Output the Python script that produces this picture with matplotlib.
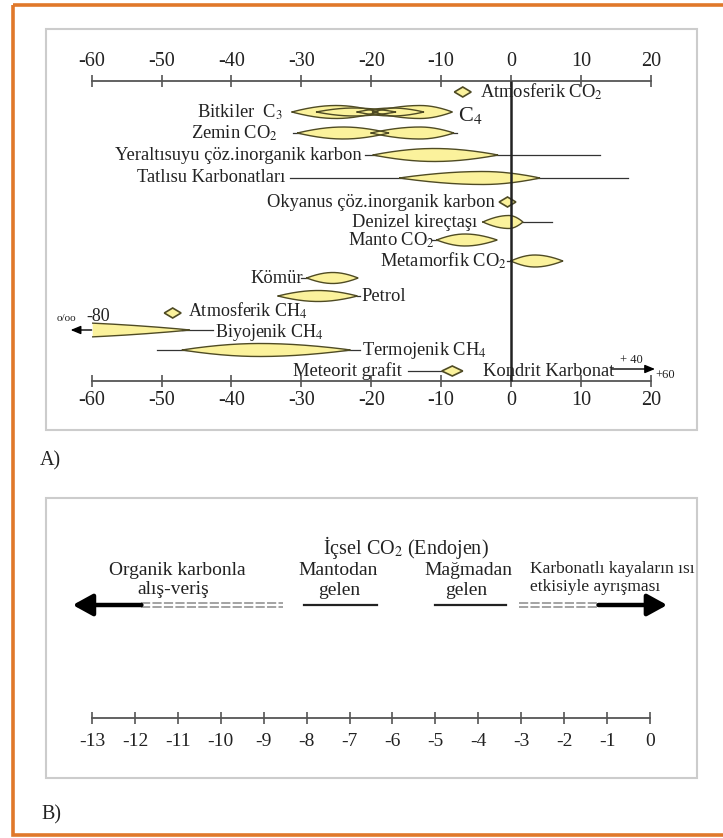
import numpy as np
import matplotlib
matplotlib.use('Agg')
import matplotlib.pyplot as plt
from matplotlib.patches import Rectangle

plt.rcParams['font.family'] = ['Liberation Serif', 'DejaVu Serif']
plt.rcParams['mathtext.fontset'] = 'stix'
plt.rcParams['axes.unicode_minus'] = False

### ============= data: panel A (d13C, permil) =============
ticks_a = [-60, -50, -40, -30, -20, -10, 0, 10, 20]

# lens shaped ranges: row, low end, widest point, high end
lens_row  = [1, 1, 1, 1, 2, 2, 3, 4, 6, 7, 8, 9, 10, 13]
lens_lo   = [-31.3, -27.8, -22.0, -19.8, -30.5, -20.0, -19.7, -15.9, -4.0, -10.6, 0.0, -29.2, -33.3, -47.0]
lens_peak = [-25.0, -22.5, -17.0, -13.0, -24.0, -13.0, -11.0, -4.0, -0.3, -6.6, 3.4, -25.5, -27.6, -36.0]
lens_hi   = [-19.0, -16.5, -12.5, -8.4, -17.5, -8.2, -1.9, 4.1, 1.7, -2.0, 7.4, -21.9, -22.0, -23.0]
lens_h    = [13, 8, 8, 13, 12, 12, 13, 13, 13, 12, 12, 11, 11, 13]

# thin lines (full observed range)
line_row = [2, 3, 4, 6, 7, 8, 9, 10, 12, 13, 14]
line_lo  = [-31.2, -20.9, -31.6, 1.7, -11.3, -0.6, -30.0, -22.0, -47.0, -50.6, -14.7]
line_hi  = [-7.7, 12.7, 16.7, 5.9, -10.6, 0.0, -29.2, -21.6, -42.6, -21.6, -8.4]

# single values (diamonds)
diamond_row = [0, 5, 11, 14]
diamond_x   = [-6.9, -0.5, -48.4, -8.4]

# biyojenik CH4 runs off the scale (to -80), kondrit karbonat to +60
biyo_lo, biyo_peak, biyo_hi = -80.0, -70.0, -46.0
kondrit_lo, kondrit_hi = 14.4, 20.6

labels   = ['Atmosferik CO$_2$', 'Bitkiler  C$_3$', 'C$_4$', 'Zemin CO$_2$',
            'Yeraltısuyu çöz.inorganik karbon', 'Tatlısu Karbonatları',
            'Okyanus çöz.inorganik karbon', 'Denizel kireçtaşı', 'Manto CO$_2$',
            'Metamorfik CO$_2$', 'Kömür', 'Petrol', 'Atmosferik CH$_4$',
            'Biyojenik CH$_4$', 'Termojenik CH$_4$', 'Meteorit grafit',
            'Kondrit Karbonat']
label_row = [0, 1, 1, 2, 3, 4, 5, 6, 7, 8, 9, 10, 11, 12, 13, 14, 14]
label_x   = [-4.4, -32.6, -7.6, -33.3, -21.3, -32.3, -2.3, -4.9, -10.9,
             -0.6, -29.8, -21.4, -46.2, -42.3, -21.3, -15.6, -4.0]
label_ha  = ['left', 'right', 'left', 'right', 'right', 'right', 'right', 'right',
             'right', 'right', 'right', 'left', 'left', 'left', 'left', 'right', 'left']

### ============= data: panel B =============
ticks_b = list(range(-13, 1))
organik_arrow = (-11.85, -13.45)
organik_dash  = (-11.85, -8.55)
manto_range   = (-8.05, -6.35)
magma_range   = (-5.0, -3.35)
karb_dash     = (-3.05, -1.2)
karb_arrow    = (-1.2, 0.4)

### ============= layout =============
W, H = 723, 838
row_y = [92, 112, 133, 155, 178, 202, 222, 240, 261, 278, 296, 313, 330, 350, 371]
label_dy = {11: -2, 12: 2}
axis_top, axis_bot = 81, 381
axis_b = 718
fill_c, edge_c, line_c, txt_c = '#fbf29c', '#4f4b24', '#333333', '#222222'


def lens_shape(lo, pk, hi, y, h, clip=None):
    xs = np.linspace(lo, hi, 200)
    u = np.where(xs <= pk, 0.5*(xs - lo)/(pk - lo), 0.5 + 0.5*(xs - pk)/(hi - pk))
    w = h/2.0*np.sin(np.pi*u)**0.9
    if clip is not None:
        keep = xs >= clip
        xs, w = xs[keep], w[keep]
    px = np.concatenate([xs, xs[::-1]])
    py = np.concatenate([y - w, (y + w)[::-1]])
    return px, py


def diamond(ax, x, y, dx=1.2, dy=5):
    ax.fill([x - dx, x, x + dx, x, x - dx], [y, y - dy, y, y + dy, y],
            facecolor=fill_c, edgecolor=edge_c, lw=1.2, zorder=4)


fig = plt.figure(figsize=(W/100, H/100), dpi=100)

# background frames
bg = fig.add_axes([0, 0, 1, 1])
bg.set_xlim(0, W)
bg.set_ylim(H, 0)
bg.axis('off')
bg.add_patch(Rectangle((13, 5), 720, 830, fill=False, ec='#e0782a', lw=2.6))
bg.add_patch(Rectangle((46, 29), 651, 401, fill=False, ec='#cccccc', lw=1.5))
bg.add_patch(Rectangle((46, 498), 651, 280, fill=False, ec='#cccccc', lw=1.5))
bg.text(40, 461, 'A)', fontsize=14.5, color=txt_c, va='center')
bg.text(41, 815, 'B)', fontsize=14.5, color=txt_c, va='center')

### ---------------- panel A ----------------
ax = fig.add_axes([46/W, 1 - 430/H, 651/W, 401/H])
ax.set_facecolor('none')
ax.set_xlim((46 - 511)/6.99, (697 - 511)/6.99)
ax.set_ylim(430, 29)
ax.spines['left'].set_visible(False)
ax.spines['right'].set_visible(False)
ax.spines['top'].set_position(('data', axis_top))
ax.spines['bottom'].set_position(('data', axis_bot))
for s in ('top', 'bottom'):
    ax.spines[s].set_bounds(ticks_a[0], ticks_a[-1])
    ax.spines[s].set_color('#555555')
    ax.spines[s].set_linewidth(1.3)
ax.set_yticks([])
ax.set_xticks(ticks_a)
ax.xaxis.set_ticks_position('both')
ax.tick_params(axis='x', direction='inout', length=8, width=1.2, color='#555555',
               labeltop=True, labelbottom=True, labelsize=14.5, labelcolor=txt_c, pad=3)

ax.vlines(0, axis_top, axis_bot, color='#222222', lw=1.8, zorder=5)

for r, a, b in zip(line_row, line_lo, line_hi):
    ax.plot([a, b], [row_y[r], row_y[r]], color=line_c, lw=0.9, zorder=2)
# fills first, outlines on top so overlapping lenses show their edges
shapes = [lens_shape(a, p, b, row_y[r], h)
          for r, a, p, b, h in zip(lens_row, lens_lo, lens_peak, lens_hi, lens_h)]
shapes.append(lens_shape(biyo_lo, biyo_peak, biyo_hi, row_y[12], 17, clip=ticks_a[0]))
for px, py in shapes:
    ax.fill(px, py, facecolor=fill_c, edgecolor='none', zorder=3)
for px, py in shapes:
    ax.plot(px, py, color=edge_c, lw=1.0, zorder=3.5)
for r, x in zip(diamond_row, diamond_x):
    diamond(ax, x, row_y[r], dx=1.5 if r == 14 else 1.2)

# biyojenik CH4, cut at -60 with arrow
ax.annotate('', xy=(ticks_a[0] - 3, row_y[12]), xytext=(ticks_a[0], row_y[12]),
            arrowprops=dict(arrowstyle='-|>,head_length=0.6,head_width=0.25',
                            color='black', lw=1.0, shrinkA=0, shrinkB=0), zorder=4)
ax.text(-65.0, row_y[12] - 12, 'o/oo', fontsize=8, color=txt_c, va='center', ha='left')
ax.text(-60.7, row_y[12] - 14, '-80', fontsize=13, color=txt_c, va='center', ha='left')

# kondrit karbonat arrow
ax.annotate('', xy=(kondrit_hi, row_y[14] - 2), xytext=(kondrit_lo, row_y[14] - 2),
            arrowprops=dict(arrowstyle='-|>,head_length=0.6,head_width=0.25',
                            color='black', lw=1.0, shrinkA=0, shrinkB=0), zorder=4)
ax.text(15.6, row_y[14] - 11, '+ 40', fontsize=9, color=txt_c, va='center', ha='left')
ax.text(20.6, row_y[14] + 4, '+60', fontsize=9, color=txt_c, va='center', ha='left')

for t, r, x, ha in zip(labels, label_row, label_x, label_ha):
    yy = row_y[r] + label_dy.get(r, 0)
    fs = 13.3
    if t == 'C$_4$':
        yy, fs = yy + 4, 16
    if r in (11, 12):
        fs = 13
    ax.text(x, yy, t, fontsize=fs, color=txt_c, ha=ha, va='center', zorder=6)

### ---------------- panel B ----------------
bx = fig.add_axes([46/W, 1 - 778/H, 651/W, 280/H])
bx.set_facecolor('none')
bx.set_xlim((46 - 650)/42.92, (697 - 650)/42.92)
bx.set_ylim(778, 498)
for s in ('left', 'right', 'top'):
    bx.spines[s].set_visible(False)
bx.spines['bottom'].set_position(('data', axis_b))
bx.spines['bottom'].set_bounds(ticks_b[0], ticks_b[-1])
bx.spines['bottom'].set_color('#555555')
bx.spines['bottom'].set_linewidth(1.3)
bx.set_yticks([])
bx.set_xticks(ticks_b)
bx.tick_params(axis='x', direction='inout', length=8, width=1.2, color='#555555',
               labelsize=14, labelcolor=txt_c, pad=7)

ya = 605
arrow_kw = dict(arrowstyle='-|>,head_length=0.6,head_width=0.33', color='black',
                lw=3.2, mutation_scale=20, shrinkA=0, shrinkB=0)
bx.annotate('', xy=(organik_arrow[1], ya), xytext=(organik_arrow[0], ya), arrowprops=arrow_kw)
bx.annotate('', xy=(karb_arrow[1], ya), xytext=(karb_arrow[0], ya), arrowprops=arrow_kw)
for rng in (organik_dash, karb_dash):
    for off in (-1.8, 1.8):
        bx.plot(rng, [ya + off, ya + off], color='#8a8a8a', lw=1.1, dashes=(6, 1.5))
for rng in (manto_range, magma_range):
    bx.plot(rng, [ya, ya], color='#222222', lw=1.6)

bx.text(-11.02, 570, 'Organik karbonla', fontsize=14, color=txt_c, ha='center', va='center')
bx.text(-11.1, 589, 'alış-veriş', fontsize=14, color=txt_c, ha='center', va='center')
bx.text(-5.68, 547, 'İçsel CO$_2$ (Endojen)', fontsize=14.5, color=txt_c, ha='center', va='center')
bx.text(-7.27, 570, 'Mantodan', fontsize=14, color=txt_c, ha='center', va='center')
bx.text(-7.25, 590, 'gelen', fontsize=14, color=txt_c, ha='center', va='center')
bx.text(-4.24, 570, 'Mağmadan', fontsize=14, color=txt_c, ha='center', va='center')
bx.text(-4.29, 590, 'gelen', fontsize=14, color=txt_c, ha='center', va='center')
bx.text(-2.8, 569, 'Karbonatlı kayaların ısı', fontsize=12.5, color=txt_c, ha='left', va='center')
bx.text(-2.8, 587, 'etkisiyle ayrışması', fontsize=12.5, color=txt_c, ha='left', va='center')

fig.savefig('out.png', dpi=100)
